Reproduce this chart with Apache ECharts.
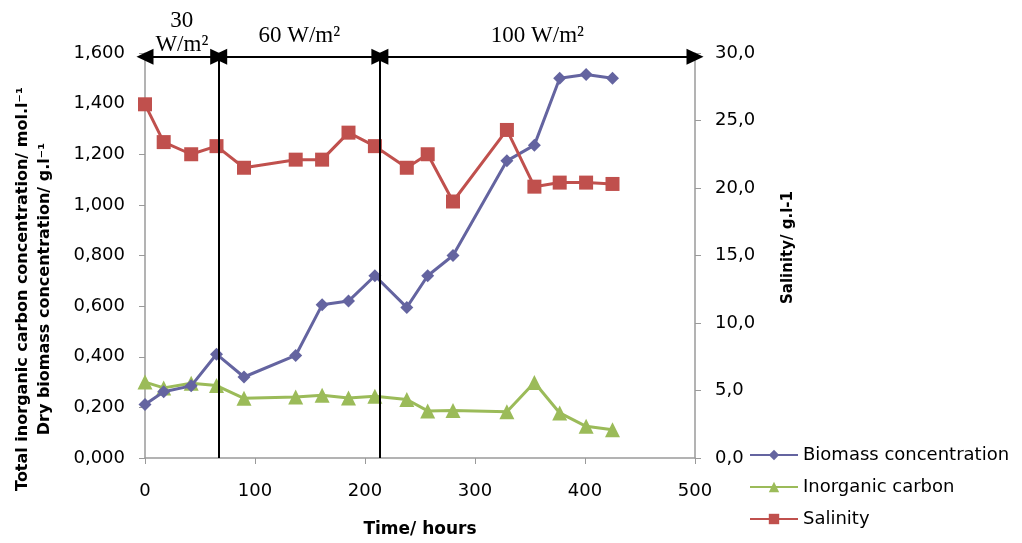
<!DOCTYPE html>
<html>
<head>
<meta charset="utf-8">
<script src="https://cdn.jsdelivr.net/npm/echarts@6/dist/echarts.min.js"></script>
<style>
  html, body { margin: 0; padding: 0; background: #fff; }
  #chart { width: 1022px; height: 543px; }
</style>
</head>
<body>
<div id="chart"></div>
<script>
// sampling times (hours)
var hours = [0, 17, 42, 65, 90, 137, 161, 185, 209, 238, 257, 280, 329, 354, 377, 401, 425];
var biomass = [0.211, 0.262, 0.285, 0.410, 0.320, 0.405, 0.605, 0.620, 0.720, 0.595, 0.720, 0.800, 1.174, 1.236, 1.500, 1.515, 1.500];
var inorganic = [0.300, 0.277, 0.295, 0.286, 0.236, 0.241, 0.248, 0.237, 0.244, 0.231, 0.186, 0.188, 0.183, 0.298, 0.178, 0.125, 0.112];
var salinity = [26.2, 23.4, 22.5, 23.1, 21.5, 22.1, 22.1, 24.1, 23.1, 21.5, 22.5, 19.0, 24.3, 20.1, 20.4, 20.4, 20.3];

// irradiance phases: [start, end, label]
var phases = [[0, 67, '30\nW/m²'], [67, 213.5, '60 W/m²'], [213.5, 500, '100 W/m²']];
var phaseBreaks = [67, 213.5];

function pairs(xs, ys) {
  return xs.map(function (x, i) { return [x, ys[i]]; });
}

var arrowLines = phases.map(function (p) {
  return [
    { coord: [p[0], 1.585], label: { formatter: p[2], distance: p[2].indexOf('\n') >= 0 ? 0 : 9 } },
    { coord: [p[1], 1.585] }
  ];
});
var breakLines = phaseBreaks.map(function (b) {
  return [{ coord: [b, 1.585] }, { coord: [b, 0] }];
});

var axisGrey = '#9a9a9a';
var sans = 'DejaVu Sans, Verdana, sans-serif';
var chart = echarts.init(document.getElementById('chart'));

chart.setOption({
  animation: false,
  backgroundColor: '#fff',
  textStyle: { fontFamily: sans },
  grid: { left: 145, right: 327, top: 53, bottom: 81 },
  legend: {
    orient: 'vertical',
    left: 744,
    top: 441,
    itemGap: 14,
    itemWidth: 48,
    itemHeight: 13,
    textStyle: { fontSize: 18, color: '#000', fontFamily: sans },
    data: ['Biomass concentration', 'Inorganic carbon', 'Salinity']
  },
  xAxis: {
    type: 'value',
    min: 0, max: 500, interval: 100,
    name: 'Time/ hours',
    nameLocation: 'middle',
    nameGap: 63,
    nameTextStyle: { fontSize: 17, fontWeight: 'bold', color: '#000', fontFamily: sans },
    axisLine: { lineStyle: { color: axisGrey, width: 1.5 } },
    axisTick: { lineStyle: { color: axisGrey }, length: 6 },
    axisLabel: { fontSize: 18, color: '#000', margin: 24, fontFamily: sans },
    splitLine: { show: false }
  },
  yAxis: [{
    type: 'value',
    min: 0, max: 1.6, interval: 0.2,
    axisLine: { show: true, lineStyle: { color: axisGrey, width: 1.5 } },
    axisTick: { show: true, lineStyle: { color: axisGrey }, length: 6 },
    axisLabel: {
      fontSize: 18, color: '#000', margin: 20, fontFamily: sans,
      formatter: function (v) { return v.toFixed(3).replace('.', ','); }
    },
    splitLine: { show: false }
  }, {
    type: 'value',
    min: 0, max: 30, interval: 5,
    position: 'right',
    name: 'Salinity/ g.l-1',
    nameLocation: 'middle',
    nameRotate: 90,
    nameGap: 86,
    nameTextStyle: { fontSize: 15, fontWeight: 'bold', color: '#000', fontFamily: sans, padding: [0, 0, 0, 16] },
    axisLine: { show: true, lineStyle: { color: axisGrey, width: 1.5 } },
    axisTick: { show: true, lineStyle: { color: axisGrey }, length: 6 },
    axisLabel: {
      fontSize: 18, color: '#000', margin: 20, fontFamily: sans,
      formatter: function (v) { return v.toFixed(1).replace('.', ','); }
    },
    splitLine: { show: false }
  }],
  graphic: [{
    type: 'text',
    x: 34, y: 289,
    rotation: Math.PI / 2,
    style: {
      text: 'Total inorganic carbon concentration/ mol.l⁻¹\nDry biomass concentration/ g.l⁻¹',
      align: 'center',
      verticalAlign: 'middle',
      lineHeight: 22,
      font: 'bold 16px DejaVu Sans, Verdana, sans-serif',
      fill: '#000'
    }
  }],
  series: [{
    name: 'Biomass concentration',
    type: 'line',
    yAxisIndex: 0,
    data: pairs(hours, biomass),
    symbol: 'diamond',
    symbolSize: 13,
    color: '#6464a0',
    lineStyle: { width: 3 },
    z: 3
  }, {
    name: 'Inorganic carbon',
    type: 'line',
    yAxisIndex: 0,
    data: pairs(hours, inorganic),
    symbol: 'triangle',
    symbolSize: 15,
    color: '#9bbb59',
    lineStyle: { width: 3 },
    z: 2
  }, {
    name: 'Salinity',
    type: 'line',
    yAxisIndex: 1,
    data: pairs(hours, salinity),
    symbol: 'rect',
    symbolSize: 14,
    color: '#c0504d',
    lineStyle: { width: 3 },
    z: 4
  }, {
    name: 'phases',
    type: 'line',
    yAxisIndex: 0,
    data: [],
    markLine: {
      silent: true,
      symbol: ['triangle', 'triangle'],
      symbolSize: [16, 17],
      lineStyle: { color: '#000', width: 2, type: 'solid' },
      label: {
        show: true,
        position: 'middle',
        fontFamily: 'Liberation Serif, Times New Roman, serif',
        fontSize: 23,
        lineHeight: 24,
        color: '#000'
      },
      emphasis: { disabled: true },
      data: arrowLines
    }
  }, {
    name: 'breaks',
    type: 'line',
    yAxisIndex: 0,
    data: [],
    markLine: {
      silent: true,
      symbol: 'none',
      lineStyle: { color: '#000', width: 2, type: 'solid' },
      label: { show: false },
      emphasis: { disabled: true },
      data: breakLines
    }
  }]
});
</script>
</body>
</html>
